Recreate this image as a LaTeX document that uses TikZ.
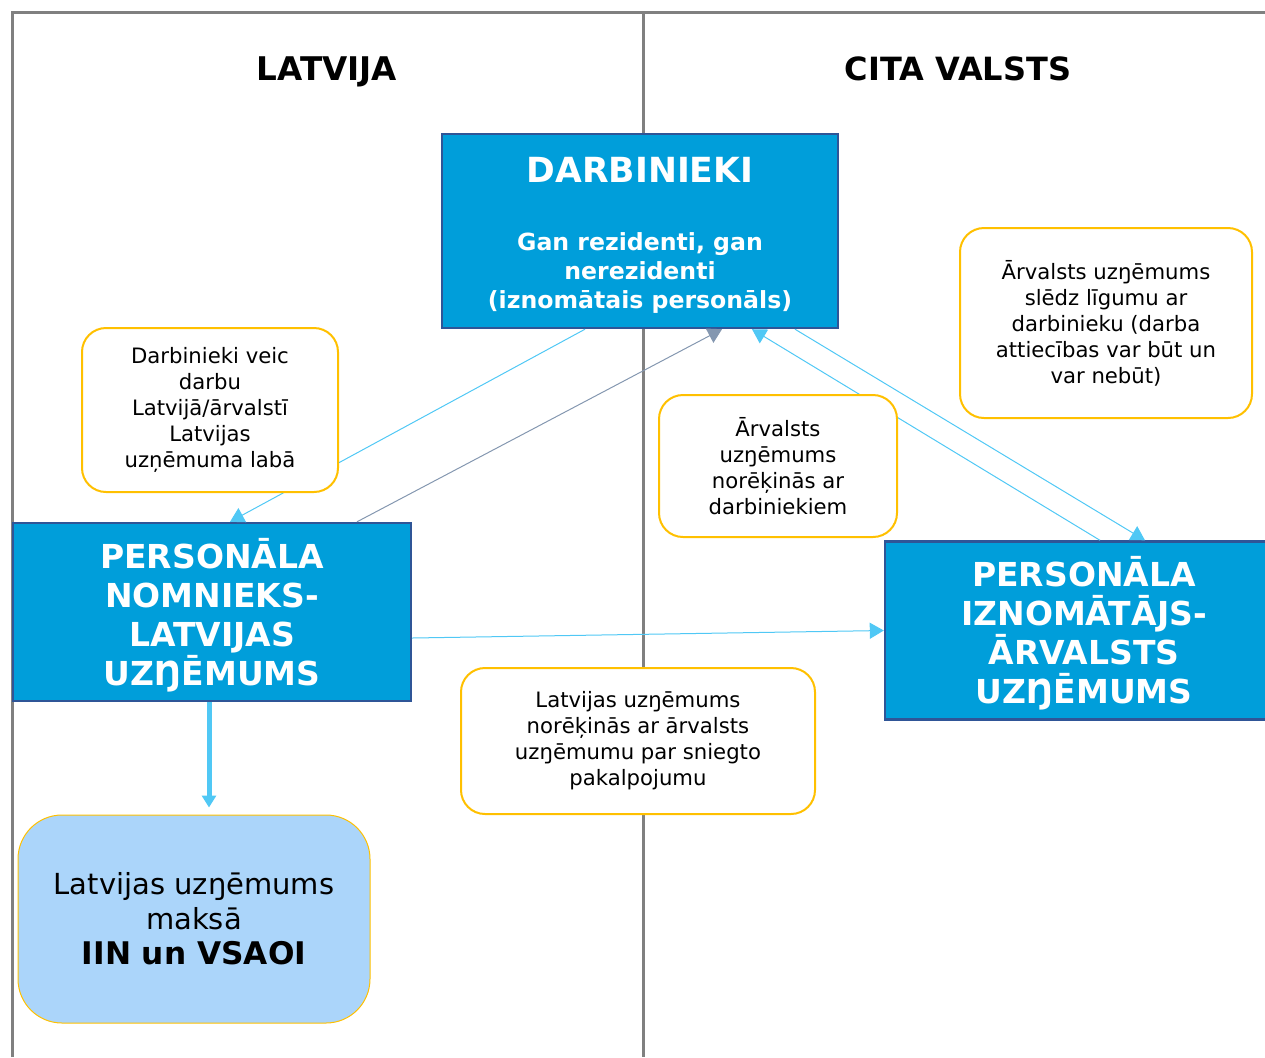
\documentclass[tikz,border=0pt]{standalone}
\usepackage{fontspec}
\setmainfont{DejaVu Sans}
\usetikzlibrary{arrows.meta}

\definecolor{boxblue}{RGB}{0,158,218}
\definecolor{boxedge}{RGB}{47,85,151}
\definecolor{noteedge}{RGB}{255,192,0}
\definecolor{linkblue}{RGB}{80,200,245}
\definecolor{linkgray}{RGB}{132,151,176}
\definecolor{paleblue}{RGB}{171,213,250}
\definecolor{framegray}{RGB}{128,128,128}

\begin{document}
\begin{tikzpicture}[x=0.5pt, y=-0.5pt,
  party/.style={draw=boxedge, line width=1.2pt, fill=boxblue,
    minimum width=199pt, minimum height=89pt, inner sep=0pt},
  partytext/.style={text=white, font=\fontsize{16.5}{19.5}\selectfont\bfseries,
    align=center, inner sep=0pt},
  note/.style={draw=noteedge, line width=1pt, fill=white, rounded corners=12pt,
    font=\fontsize{10.6}{13}\selectfont, align=center, inner sep=0pt},
  thin/.style={line width=0.5pt, -{Triangle[width=8pt,length=7pt]}}]

  \useasboundingbox (0, 0) rectangle (1265, 1057);

  % frame
  \draw [framegray, line width=1.5pt] (12, 1057) -- (12, 12) -- (1265, 12);
  \draw [framegray, line width=1.5pt] (643, 12) -- (643, 1057);

  \node [anchor=base] (lv) at (327, 80) {\fontsize{16.3}{19}\selectfont\bfseries LATVIJA};
  \node [anchor=base] (cv) at (958, 80) {\fontsize{16}{19}\selectfont\bfseries CITA VALSTS};

  % boxes
  \node [party, minimum width=198pt, minimum height=97pt] (darb) at (640, 231) {};
  \node [partytext, font=\fontsize{11.8}{14.5}\selectfont\bfseries]
    (darbt) at ([yshift=-2pt]darb.center)
    {{\fontsize{17.3}{20}\selectfont DARBINIEKI}\\[19.5pt]
     Gan rezidenti, gan\\ nerezidenti\\ (iznomātais personāls)};
  \node [party] (nomn) at (212, 612) {};
  \node [partytext] (nomnt) at ([yshift=-1.5pt]nomn.center)
    {PERSONĀLA\\ NOMNIEKS-\\ LATVIJAS\\ UZŊĒMUMS};
  \node [party] (izn) at (1084, 630.5) {};
  \node [partytext] (iznt) at ([yshift=-1.5pt]izn.center)
    {PERSONĀLA\\ IZNOMĀTĀJS-\\ ĀRVALSTS\\ UZŊĒMUMS};
  \node [draw=noteedge, line width=0.5pt, fill=paleblue, rounded corners=22pt,
    minimum width=176pt, minimum height=104pt, align=center, inner sep=0pt,
    font=\fontsize{14.5}{17.5}\selectfont] (iin) at (194, 919)
    {Latvijas uzŋēmums\\ maksā\\ {\fontsize{15.6}{17.5}\selectfont\bfseries IIN un VSAOI}};

  % links
  \draw [thin, linkblue] ([xshift=-27.5pt]darb.south) to ([xshift=9pt]nomn.north);
  \draw [thin, linkgray] ([xshift=72.5pt]nomn.north) to ([xshift=41pt]darb.south);
  \draw [thin, linkblue] ([xshift=8pt]izn.north) to ([xshift=56pt]darb.south);
  \draw [thin, linkblue] ([xshift=77.5pt]darb.south) to ([xshift=30.5pt]izn.north);
  \draw [thin, linkblue] ([yshift=-13pt]nomn.east) to (izn.west);
  \draw [linkblue, line width=2.5pt, shorten >=3.5pt, -{Triangle[width=7pt,length=6pt]}]
    ([xshift=-1.5pt]nomn.south) to ([xshift=7.5pt]iin.north);

  % notes
  \node [note, minimum width=128pt, minimum height=82pt] (n1) at (210, 410)
    {Darbinieki veic\\ darbu\\ Latvijā/ārvalstī\\ Latvijas\\ uzņēmuma labā};
  \node [note, minimum width=119pt, minimum height=71pt] (n2) at (778, 466)
    {Ārvalsts\\ uzŋēmums\\ norēķinās ar\\ darbiniekiem};
  \node [note, minimum width=146pt, minimum height=95pt] (n3) at (1106, 323)
    {Ārvalsts uzŋēmums\\ slēdz līgumu ar\\ darbinieku (darba\\ attiecības var būt un\\ var nebūt)};
  \node [note, minimum width=177pt, minimum height=73pt] (n4) at (638, 741)
    {Latvijas uzŋēmums\\ norēķinās ar ārvalsts\\ uzŋēmumu par sniegto\\ pakalpojumu};

\end{tikzpicture}
\end{document}
